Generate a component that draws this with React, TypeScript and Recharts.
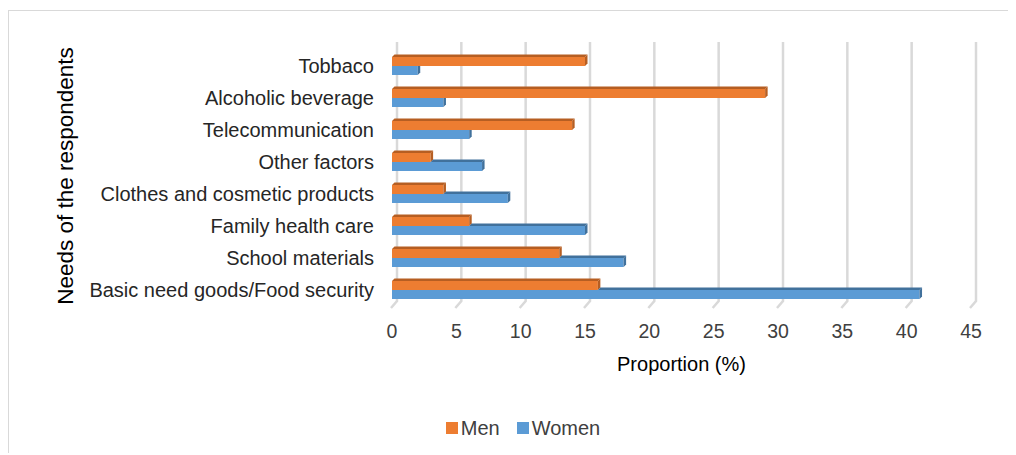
import { Bar, BarChart, CartesianGrid, Label, Legend, XAxis, YAxis } from 'recharts';

// #region Sample data
const categories = [
    'Tobbaco ',
    'Alcoholic beverage',
    'Telecommunication ',
    'Other factors',
    'Clothes and cosmetic products',
    'Family health care',
    'School materials',
    'Basic need goods/Food security',
];
const menValues = [15, 29, 14, 3, 4, 6, 13, 16];
const womenValues = [2, 4, 6, 7, 9, 15, 18, 41];
const xTicks = [0, 5, 10, 15, 20, 25, 30, 35, 40, 45];

const data = categories.map((name, i) => ({ name, men: menValues[i], women: womenValues[i] }));
// #endregion

const DEPTH = 2.5;

// bar with a small 3D top and right face, like the office chart
const make3D = (fill: string, dark: string, isWomen: boolean) => (props: any) => {
    const { x, y, width, height, payload } = props;
    if (width <= 0) return <g />;
    let topStart = x;
    if (isWomen) topStart = x + width * Math.min(payload.men / payload.women, 1);
    const right = x + width;
    const showTop = topStart < right - 0.5;
    const sideTop = showTop ? y - DEPTH : y;
    return (
        <g>
            <rect x={x} y={y} width={width} height={height} fill={fill} />
            {showTop && (
                <polygon
                    points={`${topStart},${y} ${topStart + DEPTH},${y - DEPTH} ${right + DEPTH},${y - DEPTH} ${right},${y}`}
                    fill={dark}
                />
            )}
            <polygon
                points={`${right},${y} ${right + DEPTH},${sideTop} ${right + DEPTH},${y + height - DEPTH} ${right},${y + height}`}
                fill={dark}
            />
        </g>
    );
};

const gridLine = (p: any) => (
    <path
        key={p.key}
        d={`M${p.x1 + 5},${p.y1 - 8} L${p.x1 + 5},${p.y2 - 5} L${p.x1 - 1},${p.y2 + 2}`}
        stroke="#d9d9d9"
        strokeWidth={2.5}
        fill="none"
    />
);

const LegendBox = () => (
    <div style={{ display: 'flex', justifyContent: 'center', alignItems: 'center', height: 24, fontSize: 20, color: '#404040' }}>
        <span style={{ width: 12, height: 12, background: '#ED7D31', display: 'inline-block', marginRight: 3 }} />
        <span style={{ marginRight: 17 }}>Men</span>
        <span style={{ width: 12, height: 12, background: '#5B9BD5', display: 'inline-block', marginRight: 3 }} />
        <span>Women</span>
    </div>
);

export default function App() {
    return (
        <div style={{ position: 'relative', top: 2, width: 1008, height: 445, overflow: 'hidden', fontFamily: '"Liberation Sans", Arial, sans-serif' }}>
            <div style={{ border: '1px solid #d9d9d9', width: 1030, height: 470, boxSizing: 'border-box' }}>
                <BarChart
                    width={1028}
                    height={460}
                    data={data}
                    layout="vertical"
                    margin={{ top: 39, right: 66, left: 0, bottom: 61 }}
                    barSize={9}
                    barGap={0}
                >
                    <CartesianGrid horizontal={false} vertical={gridLine} />
                    <XAxis
                        type="number"
                        domain={[0, 45]}
                        ticks={xTicks}
                        tickLine={false}
                        axisLine={false}
                        tickSize={0}
                        tickMargin={18}
                        height={80}
                        tick={{ fill: '#404040', fontSize: 19.5 }}
                    >
                        <Label
                            content={({ viewBox }: any) => (
                                <text x={viewBox.x + viewBox.width / 2} y={viewBox.y + 58} textAnchor="middle" dominantBaseline="central" fontSize={20} fill="#000">
                                    Proportion (%)
                                </text>
                            )}
                        />
                    </XAxis>
                    <YAxis
                        type="category"
                        dataKey="name"
                        width={383}
                        tickLine={false}
                        axisLine={false}
                        tickSize={0}
                        tickMargin={18}
                        interval={0}
                        tick={{ fill: '#262626', fontSize: 20 }}
                    >
                        <Label
                            content={({ viewBox }: any) => {
                                const cy = viewBox.y + viewBox.height / 2 - 2;
                                return (
                                    <text x={56} y={cy} textAnchor="middle" dominantBaseline="central" fontSize={22.5} fill="#000" transform={`rotate(-90, 56, ${cy})`}>
                                        Needs of the respondents
                                    </text>
                                );
                            }}
                        />
                    </YAxis>
                    <Legend content={<LegendBox />} wrapperStyle={{ top: 405, left: 0, width: 1028 }} />
                    <Bar dataKey="men" name="Men" fill="#ED7D31" shape={make3D('#ED7D31', '#B65E22', false)} isAnimationActive={false} />
                    <Bar dataKey="women" name="Women" fill="#5B9BD5" shape={make3D('#5B9BD5', '#41719C', true)} isAnimationActive={false} />
                </BarChart>
            </div>
        </div>
    );
}
